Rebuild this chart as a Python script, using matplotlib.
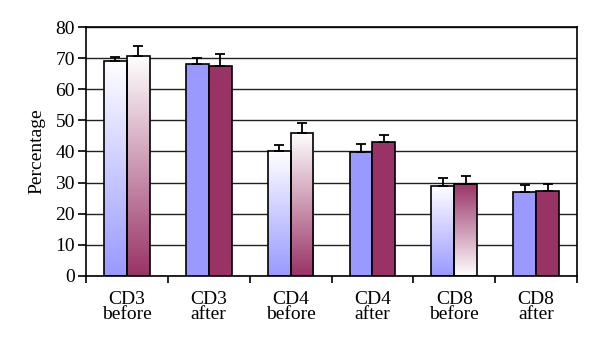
import numpy as np
import matplotlib
matplotlib.use('Agg')
import matplotlib.pyplot as plt
from matplotlib.colors import LinearSegmentedColormap

plt.rcParams['font.family'] = ['Liberation Serif', 'DejaVu Serif']

categories = ['CD3\nbefore', 'CD3\nafter', 'CD4\nbefore', 'CD4\nafter', 'CD8\nbefore', 'CD8\nafter']
blue_vals = [69.2, 68.2, 40.0, 39.9, 29.0, 26.9]
blue_err = [1.3, 1.9, 2.0, 2.5, 2.6, 2.2]
maroon_vals = [70.7, 67.6, 46.1, 43.0, 29.7, 27.4]
maroon_err = [3.1, 3.6, 3.0, 2.4, 2.4, 2.2]

# gradient fill style per group: None = solid, 'down' = white top -> colour bottom,
# 'up' = colour top -> white bottom
blue_fill = ['down', None, 'down', None, 'down', None]
maroon_fill = ['down', None, 'down', None, 'up', None]

BLUE = '#9999FF'
MAROON = '#993366'

fig = plt.figure(figsize=(6.0, 3.44), dpi=100)
ax = fig.add_axes([0.1433, 0.1977, 0.8184, 0.7238])

x = np.arange(len(categories))
w = 0.28


def draw_bars(xpos, vals, errs, color, fills):
    bars = ax.bar(xpos, vals, w, color=color, edgecolor='black', linewidth=1.2, zorder=3)
    cmap = LinearSegmentedColormap.from_list('g', ['white', color])
    for b, f in zip(bars, fills):
        if f is None:
            continue
        grad = np.linspace(0, 1, 256).reshape(-1, 1)
        if f == 'up':
            grad = grad[::-1]
        b.set_facecolor('none')
        x0, y0 = b.get_x(), b.get_y()
        im = ax.imshow(grad, cmap=cmap, aspect='auto', origin='upper',
                       extent=[x0, x0 + b.get_width(), y0, y0 + b.get_height()],
                       zorder=2.5, interpolation='bilinear')
        im.set_clip_path(b)
    ax.errorbar(xpos, vals, yerr=[np.zeros(len(errs)), errs], fmt='none',
                ecolor='black', elinewidth=1.3, capsize=3.5, capthick=1.3, zorder=4)


draw_bars(x - w / 2, blue_vals, blue_err, BLUE, blue_fill)
draw_bars(x + w / 2, maroon_vals, maroon_err, MAROON, maroon_fill)

ax.set_xlim(-0.5, len(categories) - 0.5)
ax.set_ylim(0, 80)
ax.set_yticks(np.arange(0, 81, 10))
ax.yaxis.grid(True, color='#222222', linewidth=1.0, zorder=0)
ax.set_axisbelow(True)

ax.set_xticks(x)
ax.set_xticklabels(categories, fontsize=14, linespacing=0.8)
ax.set_xticks(np.arange(-0.5, len(categories), 1), minor=True)
ax.tick_params(axis='x', which='major', length=0, pad=11)
ax.tick_params(axis='x', which='minor', length=5, width=1.2, direction='out')
ax.tick_params(axis='y', length=6, width=1.2, direction='out', labelsize=14, pad=2)

ax.set_ylabel('Percentage', fontsize=14, labelpad=7)

for s in ax.spines.values():
    s.set_linewidth(1.2)
    s.set_color('black')

fig.savefig('out.png', dpi=100)
